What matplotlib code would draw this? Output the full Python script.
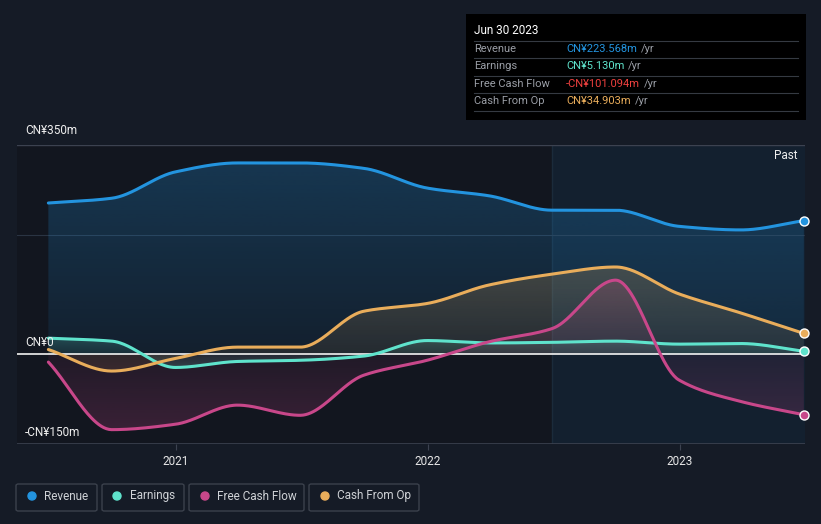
import numpy as np
import pandas as pd
import matplotlib
matplotlib.use("Agg")
import matplotlib.pyplot as plt
import matplotlib.dates as mdates
from matplotlib.patches import Rectangle, FancyBboxPatch
from matplotlib.lines import Line2D

plt.rcParams["font.family"] = ["Roboto", "DejaVu Sans"]

# quarterly values, CN¥ millions (trailing twelve months)
dates = pd.date_range("2020-06-30", "2023-06-30", freq="QE")
revenue = [253, 261, 305, 320, 320, 311, 278, 265, 241, 241, 214, 208, 223.568]
earnings = [27, 22, -22, -12, -10, -3, 23, 19, 20, 22, 17, 18, 5.130]
free_cash_flow = [-13, -126, -117, -85, -102, -35, -10, 21, 43, 124, -43, -79, -101.094]
cash_from_op = [8, -28, -7, 12, 12, 72, 85, 116, 134, 146, 101, 69, 34.903]

series = [
    ("Revenue", revenue, "#2394df", "CN¥223.568m"),
    ("Earnings", earnings, "#5fe3cc", "CN¥5.130m"),
    ("Free Cash Flow", free_cash_flow, "#c8478a", "-CN¥101.094m"),
    ("Cash From Op", cash_from_op, "#e9ad5b", "CN¥34.903m"),
]
value_colors = ["#2394df", "#5fe3cc", "#f0413f", "#e9ad5b"]

BG = "#151b26"
W, H = 821, 524


def monotone(x, y, xs):
    # monotone cubic hermite, only used to draw smooth lines between the points
    x = np.asarray(x, float)
    y = np.asarray(y, float)
    h = np.diff(x)
    d = np.diff(y) / h
    n = len(x)
    m = np.zeros(n)
    for k in range(1, n - 1):
        if d[k - 1] * d[k] > 0:
            w1 = 2 * h[k] + h[k - 1]
            w2 = h[k] + 2 * h[k - 1]
            m[k] = (w1 + w2) / (w1 / d[k - 1] + w2 / d[k])
    m[0] = d[0]
    m[-1] = d[-1]
    idx = np.clip(np.searchsorted(x, xs) - 1, 0, n - 2)
    t = (xs - x[idx]) / h[idx]
    h00 = 2 * t**3 - 3 * t**2 + 1
    h10 = t**3 - 2 * t**2 + t
    h01 = -2 * t**3 + 3 * t**2
    h11 = t**3 - t**2
    return h00 * y[idx] + h10 * h[idx] * m[idx] + h01 * y[idx + 1] + h11 * h[idx] * m[idx + 1]


fig = plt.figure(figsize=(W / 100, H / 100), dpi=100, facecolor=BG)
ax = fig.add_axes([17 / W, 1 - 444 / H, (805 - 17) / W, (444 - 145) / H])
ax.set_facecolor("#12161f")

xnum = mdates.date2num(dates)
xmin = mdates.date2num(pd.Timestamp("2021-01-01")) - 159 / 252 * 365.25
xmax = mdates.date2num(pd.Timestamp("2021-01-01")) + 629 / 252 * 365.25
ax.set_xlim(xmin, xmax)
ax.set_ylim(-150, 350)

# past region
past_start = mdates.date2num(pd.Timestamp("2022-06-30"))
ax.axvspan(past_start, xmax, color="#13202f", zorder=0, lw=0)
ax.axvline(past_start, color="#1b2b3b", lw=1, zorder=0.5)

# grid lines
ax.axhline(350, color="#3c4250", lw=1, zorder=1)
ax.axhline(200, color="#2a3443", lw=0.8, zorder=1)
ax.axhline(-150, color="#3c4250", lw=1.2, zorder=1)

xs = np.linspace(xnum[0], xnum[-1], 600)
for i, (name, vals, col, _) in enumerate(series):
    ys = monotone(xnum, vals, xs)
    top = max(ys.max(), 0)
    bot = min(ys.min(), 0)
    poly = ax.fill_between(xs, ys, 0, facecolor="none", edgecolor="none")
    grad = np.zeros((200, 1, 4))
    grad[..., :3] = matplotlib.colors.to_rgb(col)
    yy = np.linspace(bot, top, 200)
    a_max = 0.26 if name == "Revenue" else 0.22
    span = max(top, -bot, 1)
    grad[:, 0, 3] = 0.08 + (a_max - 0.08) * np.abs(yy) / span
    im = ax.imshow(grad, extent=[xnum[0], xnum[-1], bot, top], origin="lower",
                   aspect="auto", zorder=2 + i * 0.1, interpolation="bilinear")
    im.set_clip_path(poly.get_paths()[0], transform=ax.transData)
    ax.plot(xs, ys, color=col, lw=2.2, zorder=4 + i * 0.1, solid_capstyle="round")
    ax.scatter([xnum[-1]], [vals[-1]], s=42, color=col, edgecolor="white",
               linewidth=1, zorder=6, clip_on=False)

ax.axhline(0, color="#f2f2f2", lw=1.2, zorder=3.5)
ax.set_xlim(xmin, xmax)
ax.set_ylim(-150, 350)

for sp in ax.spines.values():
    sp.set_visible(False)
ax.set_yticks([])
ticks = [mdates.date2num(pd.Timestamp(f"{y}-01-01")) for y in (2021, 2022, 2023)]
ax.set_xticks(ticks)
ax.set_xticklabels(["2021", "2022", "2023"], color="#e6e6e6", fontsize=8.5)
ax.tick_params(axis="x", length=4, color="#3c4250", pad=4)

# y labels
for y_px, lab in [(131, "CN¥350m"), (342, "CN¥0"), (432, "-CN¥150m")]:
    fig.text(25 / W, 1 - y_px / H, lab, color="#eeeeee", fontsize=8.5, va="center", ha="left")

fig.text(797 / W, 1 - 156 / H, "Past", color="#eeeeee", fontsize=8.5, va="center", ha="right")

# tooltip box
fig.patches.append(Rectangle((466 / W, 1 - 120 / H), 340 / W, 106 / H, transform=fig.transFigure,
                             facecolor="#000000", edgecolor="none", zorder=5))
fig.text(474 / W, 1 - 31 / H, "Jun 30 2023", color="#ffffff", fontsize=8.5, va="center", zorder=6)
for y_px in (41, 58, 76, 93, 111):
    fig.lines.append(Line2D([474 / W, 798 / W], [1 - y_px / H] * 2, transform=fig.transFigure,
                            color="#353a42", lw=0.8, zorder=6))
renderer = fig.canvas.get_renderer()
for (name, vals, col, label), vcol, y_px in zip(series, value_colors, (49, 66, 84, 101)):
    fig.text(474 / W, 1 - y_px / H, name, color="#9a9ea6", fontsize=8, va="center", zorder=6)
    t = fig.text(566 / W, 1 - y_px / H, label, color=vcol, fontsize=8, va="center", zorder=6)
    bb = t.get_window_extent(renderer)
    fig.text(bb.x1 / W + 4 / W, 1 - y_px / H, "/yr", color="#9a9ea6", fontsize=8, va="center", zorder=6)

# legend boxes
legend_boxes = [(16, 97, 32, 44), (102, 184, 117, 130), (189, 304, 205, 217), (309, 419, 325, 337)]
for (name, vals, col, _), (x0, x1, xd, xt) in zip(series, legend_boxes):
    fig.patches.append(FancyBboxPatch((x0 / W, 1 - 511 / H), (x1 - x0) / W, 27 / H,
                                      boxstyle="round,pad=0,rounding_size=0.003",
                                      transform=fig.transFigure, facecolor="none",
                                      edgecolor="#3b414c", lw=1))
    fig.patches.append(matplotlib.patches.Ellipse((xd / W, 1 - 496 / H), 8 / W, 8 / H,
                                                  transform=fig.transFigure, color=col))
    fig.text(xt / W, 1 - 496 / H, name, color="#cfd2d6", fontsize=8.5, va="center", ha="left")

fig.savefig("out.png", dpi=100, facecolor=BG)
